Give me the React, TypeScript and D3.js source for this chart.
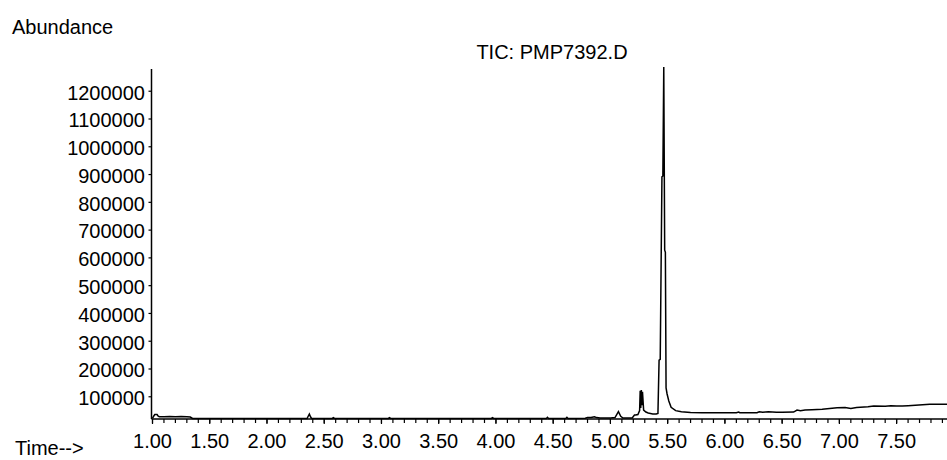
import React from "react";
import * as d3 from "d3";

const times: number[] = [
  1.0, 1.01, 1.02, 1.04, 1.05, 1.06, 1.1, 1.15, 1.2, 1.25, 1.3, 1.33, 1.35, 1.6, 2.0, 2.35, 2.36, 2.37, 2.38, 2.39,
  2.57, 2.58, 2.59, 3.06, 3.07, 3.08, 3.96, 3.97, 3.98, 4.44, 4.45, 4.46, 4.61, 4.62, 4.63, 4.78, 4.8, 4.83, 4.86, 4.88,
  4.91, 4.95, 5.0, 5.04, 5.07, 5.09, 5.11, 5.16, 5.19, 5.21, 5.22, 5.24, 5.255, 5.26, 5.265, 5.27, 5.275, 5.28, 5.29, 5.31,
  5.33, 5.37, 5.4, 5.415, 5.425, 5.435, 5.45, 5.458, 5.466, 5.474, 5.48, 5.486, 5.495, 5.51, 5.53, 5.57, 5.62, 5.7, 5.8, 5.95,
  6.1, 6.12, 6.13, 6.28, 6.3, 6.33, 6.38, 6.45, 6.5, 6.6, 6.63, 6.66, 6.7, 6.76, 6.85, 6.98, 7.05, 7.1, 7.15, 7.25,
  7.3, 7.4, 7.45, 7.5, 7.55, 7.6, 7.79, 7.85, 7.94,
];

const abundance: number[] = [
  22000, 30000, 36000, 36000, 30000, 28000, 28000, 29000, 28000, 29000, 28000, 27000, 22000, 22000, 21500, 21500, 30000, 38000, 28000, 22000,
  22000, 25000, 22000, 22000, 25000, 22000, 22000, 25000, 22000, 22000, 26000, 22000, 22000, 26000, 22000, 22500, 25000, 25500, 28000, 25000,
  24000, 23600, 23600, 25000, 46300, 30000, 23600, 23600, 24000, 34400, 34400, 36000, 50000, 122000, 60000, 124000, 70000, 118000, 52000, 45000,
  41600, 38000, 38000, 40000, 232000, 235000, 892000, 895000, 1287000, 628000, 620000, 131600, 110000, 85000, 62000, 50000, 46000, 43000, 42500, 42500,
  42700, 45000, 42700, 42700, 46300, 44000, 46000, 44000, 44500, 45000, 52400, 50000, 52000, 53000, 55000, 60700, 61000, 58000, 61500, 64000,
  66800, 66000, 68000, 66800, 67000, 68000, 72900, 73000, 73500,
];

const yTicks: number[] = [100000, 200000, 300000, 400000, 500000, 600000, 700000, 800000, 900000, 1000000, 1100000, 1200000];
const xMajorTicks: number[] = [1.0, 1.5, 2.0, 2.5, 3.0, 3.5, 4.0, 4.5, 5.0, 5.5, 6.0, 6.5, 7.0, 7.5];
const xMinorTicks: number[] = d3.range(10, 80).map((i) => i / 10);

const yLabel = "Abundance";
const xLabel = "Time-->";
const title = "TIC: PMP7392.D";

const W = 947;
const H = 460;
const left = 151.5;
const right = 947;
const top = 69;
const bottom = 419;
const font = "'Liberation Sans', Arial, sans-serif";

export default function App() {
  const x = d3.scaleLinear().domain([1.0, 7.94]).range([152.5, right]);
  const y = d3.scaleLinear().domain([20000, 1280000]).range([bottom, top]);
  const pts: [number, number][] = times.map((t, i) => [t, abundance[i]]);
  const line = d3
    .line<[number, number]>()
    .x((d) => x(d[0]))
    .y((d) => y(d[1]));

  return (
    <div style={{ position: "fixed", left: 0, top: 0, width: W, height: H, background: "#fff" }}>
      <svg width={W} height={H} style={{ display: "block" }}>
        <rect x={0} y={0} width={W} height={H} fill="#fff" />
        <text x={12} y={34} fontFamily={font} fontSize={20} fill="#000">
          {yLabel}
        </text>
        <text x={552} y={59} fontFamily={font} fontSize={20} fill="#000" textAnchor="middle">
          {title}
        </text>
        <text x={15} y={455} fontFamily={font} fontSize={20} fill="#000">
          {xLabel}
        </text>
        {/* y axis */}
        <line x1={left} x2={left} y1={top} y2={bottom} stroke="#000" strokeWidth={1.5} />
        {yTicks.map((v) => (
          <g key={v}>
            <line x1={left - 3} x2={left} y1={y(v)} y2={y(v)} stroke="#000" strokeWidth={1.2} />
            <text
              x={145}
              y={y(v) + 3}
              fontFamily={font}
              fontSize={20}
              fill="#000"
              textAnchor="end"
              dominantBaseline="middle"
            >
              {v}
            </text>
          </g>
        ))}
        {/* x axis */}
        <line x1={left} x2={right} y1={bottom} y2={bottom} stroke="#000" strokeWidth={1.5} />
        {xMinorTicks.map((t) => (
          <line key={t} x1={x(t)} x2={x(t)} y1={bottom} y2={bottom + 4} stroke="#000" strokeWidth={1.2} />
        ))}
        {xMajorTicks.map((t) => (
          <g key={t}>
            <line x1={x(t)} x2={x(t)} y1={bottom} y2={bottom + 5} stroke="#000" strokeWidth={1.2} />
            <text x={x(t)} y={448} fontFamily={font} fontSize={20} fill="#000" textAnchor="middle">
              {t.toFixed(2)}
            </text>
          </g>
        ))}
        <path d={line(pts) || ""} fill="none" stroke="#000" strokeWidth={1.5} strokeLinejoin="miter" />
      </svg>
    </div>
  );
}
